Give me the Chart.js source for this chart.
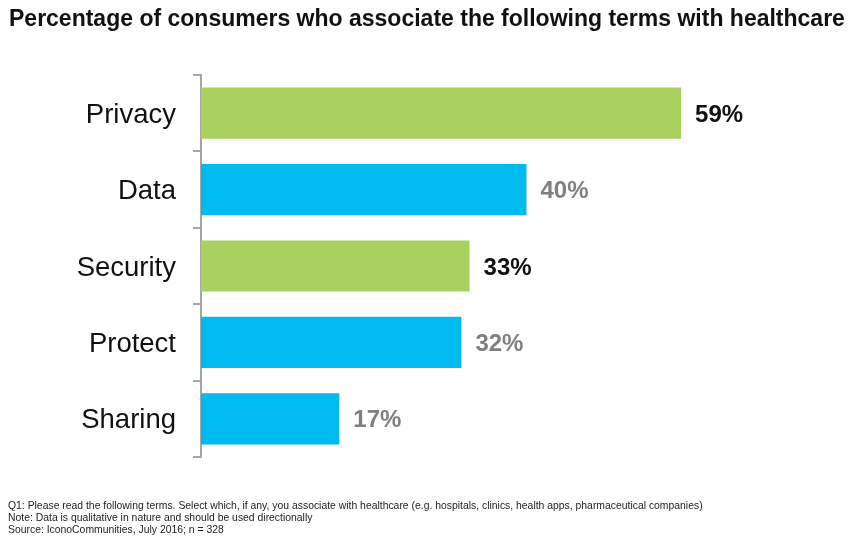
<!DOCTYPE html>
<html><head><meta charset="utf-8">
<script src="https://cdn.jsdelivr.net/npm/chart.js@4"></script>
<style>
html,body{margin:0;padding:0;background:#fff;}
#wrap{position:relative;width:860px;height:537px;}
#title{position:absolute;left:9px;top:6px;font:bold 23px/24px "Liberation Sans",Arial,sans-serif;color:#111;white-space:nowrap;}
#notes{position:absolute;left:8px;top:500px;font:10.4px/12px "Liberation Sans",Arial,sans-serif;color:#222;white-space:nowrap;}
canvas{position:absolute;left:0;top:0;}
</style></head>
<body><div id="wrap">
<canvas id="c" width="860" height="537"></canvas>
<div id="title">Percentage of consumers who associate the following terms with healthcare</div>
<div id="notes">Q1: Please read the following terms. Select which, if any, you associate with healthcare (e.g. hospitals, clinics, health apps, pharmaceutical companies)<br>Note: Data is qualitative in nature and should be used directionally<br>Source: IconoCommunities, July 2016; n = 328</div>
</div>
<script>
const categories = ["Privacy","Data","Security","Protect","Sharing"];
const values = [59,40,33,32,17];
const barColors = ["#A9D15F","#00BBF0","#A9D15F","#00BBF0","#00BBF0"];
const labelColors = ["#111111","#808080","#111111","#808080","#808080"];

const valueLabels = {
  id:'valueLabels',
  afterDatasetsDraw(chart){
    const ctx=chart.ctx; const meta=chart.getDatasetMeta(0);
    ctx.save();
    ctx.font='bold 24px "Liberation Sans", Arial, sans-serif';
    ctx.textBaseline='middle'; ctx.textAlign='left';
    meta.data.forEach((bar,i)=>{
      ctx.fillStyle=labelColors[i];
      ctx.fillText(values[i]+'%', bar.x+14, bar.y+2);
    });
    ctx.restore();
  }
};

new Chart(document.getElementById('c'),{
  type:'bar',
  data:{labels:categories,datasets:[{data:values,backgroundColor:barColors,borderWidth:0,barPercentage:0.67,categoryPercentage:1}]},
  options:{
    indexAxis:'y',responsive:false,animation:false,
    layout:{padding:{top:75,bottom:80,left:0,right:8}},
    plugins:{legend:{display:false},tooltip:{enabled:false}},
    scales:{
      x:{display:false,min:0,max:80},
      y:{
        offset:true,
        afterFit(s){s.width=201;},
        border:{display:true,color:'#A6A6A6',width:2},
        grid:{display:true,offset:true,drawOnChartArea:false,color:'#A6A6A6',lineWidth:2,tickLength:8},
        ticks:{color:'#111',padding:17,labelOffset:2,font:{size:27.5,family:'"Liberation Sans", Arial, sans-serif'}}
      }
    }
  },
  plugins:[valueLabels]
});
</script>
</body></html>
